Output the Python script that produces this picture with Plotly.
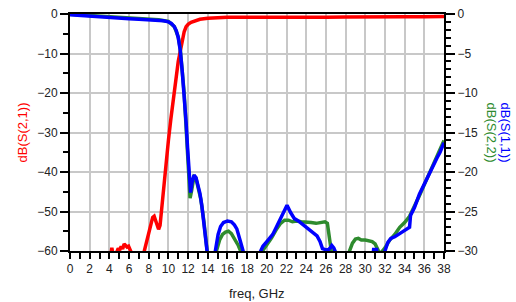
import plotly.graph_objects as go

# S(2,1) in dB (left axis)
s21_f = [3.9, 4.15, 4.25, 4.35, 4.5, 4.75, 4.9, 5.05, 5.2, 5.35, 5.5, 5.65, 5.8, 5.95, 6.1, 6.25, 6.5,
         7.2, 7.55, 7.8, 8.1, 8.4, 8.55, 8.75, 9.0, 9.15, 9.35, 9.6, 9.8, 10.0, 10.25, 10.5, 10.8,
         11.0, 11.2, 11.4, 11.6, 11.8, 12.0, 12.3, 12.7, 13.2, 14, 15, 16, 18, 20, 22, 24, 26, 28,
         30, 32, 34, 36, 38]
s21_db = [-66, -60.5, -59.2, -60.5, -63, -60.3, -59.3, -59.8, -58.8, -59.5, -58.2, -58.6, -59.0, -58.8,
          -59.6, -60.5, -64, -64, -60, -57.5, -54.5, -51.5, -51.2, -52.5, -54.5, -53.5, -48, -41, -36,
          -32, -26.5, -21.5, -15.5, -12, -9.5, -6.5, -4.5, -3.2, -2.6, -2.1, -1.7, -1.35, -1.1, -0.95,
          -0.85, -0.8, -0.85, -0.75, -0.8, -0.8, -0.75, -0.8, -0.75, -0.7, -0.7, -0.65]

# S(1,1) in dB (right axis)
s11_f = [0, 1, 2, 3, 4, 5, 6, 7, 8, 9, 9.5, 10, 10.3, 10.6, 10.8, 11.0, 11.2, 11.4, 11.6, 11.8, 11.95,
         12.1, 12.25, 12.4, 12.6, 12.8, 13.0, 13.2, 13.4, 13.6, 13.8, 14.0, 14.2,
         14.5, 14.75, 15.05, 15.3, 15.6, 16.0, 16.4, 16.7, 16.95, 17.25, 17.5, 17.7, 18,
         19, 19.3, 19.6, 20.0, 20.6, 21.0, 21.5, 22.05, 22.4, 22.8, 23.2, 23.5, 24.0, 24.4, 24.8,
         25.1, 25.4, 25.65, 25.9, 26.2, 26.45, 26.6, 26.8, 27.0, 27.3,
         30.6, 30.85, 31.15, 31.3,
         31.7, 32.0, 32.3, 32.6, 33.0, 33.5, 33.9, 34.2, 34.5, 34.6, 35.0, 35.5, 36.0, 36.5, 36.9,
         37.3, 37.6, 38]
s11_db = [-0.1, -0.2, -0.3, -0.38, -0.45, -0.52, -0.6, -0.66, -0.72, -0.78, -0.85, -1.0, -1.2, -1.6,
          -2.1, -3.0, -4.6, -7.2, -10.2, -13.8, -17, -20.3, -22.6, -21.3, -20.4, -20.7, -21.6, -22.7,
          -24.3, -26.1, -28.1, -30.3, -33,
          -32, -29.9, -27.9, -26.9, -26.4, -26.2, -26.3, -26.7, -27.2, -28.5, -29.6, -30.5, -33,
          -33, -30.2, -29.4, -28.8, -27.9, -26.9, -25.7, -24.2, -25.1, -25.9, -26.2, -26.5, -27.0,
          -27.5, -27.8, -28.1, -28.8, -29.7, -29.8, -29.9, -29.6, -29.3, -29.6, -30.2, -33,
          -33, -29.8, -29.8, -33,
          -33, -30.0, -28.9, -28.4, -28.2, -27.8, -27.5, -27.2, -27.0, -25.5, -24.5, -22.8, -21.5,
          -20.1, -19.0, -18.2, -17.5, -16.3]

# S(2,2) in dB (right axis)
s22_f = [0, 1, 2, 3, 4, 5, 6, 7, 8, 9, 10, 10.6, 11.0, 11.2, 11.6, 12.0, 12.2, 12.35, 12.6, 12.8,
         13.0, 13.3, 13.6, 13.9, 14.2,
         14.6, 14.9, 15.2, 15.5, 15.8, 16.1, 16.4, 16.8, 17.1, 17.4, 17.7,
         19.2, 19.55, 20, 20.5, 21, 21.4, 21.8, 22.2, 22.6, 23, 23.5, 24, 24.5, 25, 25.5, 25.9, 26.15,
         26.35, 26.55, 26.7, 27,
         28.1, 28.4, 28.7, 29.0, 29.3, 29.6, 30.0, 30.3, 30.7, 31.0, 31.3, 31.5, 31.8,
         32.0, 32.5, 33.0, 33.5, 34.0, 34.5, 35.0, 35.5, 36.0, 36.5, 37.0, 37.5, 38]
s22_db = [-0.03, -0.12, -0.22, -0.3, -0.38, -0.46, -0.54, -0.6, -0.67, -0.74, -0.95, -1.6, -2.9,
          -4.4, -10, -18, -23.3, -22.4, -20.6, -20.8, -21.8, -23.5, -26.2, -29.2, -33,
          -33, -29.9, -28.6, -27.9, -27.6, -27.5, -27.8, -28.6, -29.3, -30.2, -33,
          -33, -30, -29.2, -28.3, -27.2, -26.5, -26.1, -26.1, -26.3, -26.2, -26.3, -26.3, -26.4,
          -26.5, -26.4, -26.3, -26.5, -28, -29.6, -31, -34,
          -33, -30, -29, -28.5, -28.4, -28.6, -28.6, -28.7, -28.8, -29.1, -30, -30.4, -29.9,
          -29.6, -28.6, -27.9, -27.0, -26.4, -25.6, -24.4, -23.0, -21.6, -20.2, -19.0, -17.6, -16.0]

x_ticks = list(range(0, 39, 2))

FONT = "Liberation Sans, Arial, sans-serif"
GRID = "#c8c8c8"

fig = go.Figure()
fig.add_trace(go.Scatter(x=s22_f, y=s22_db, yaxis="y2", mode="lines",
                         line=dict(color="#2e8b2e", width=3.5), name="dB(S(2,2))"))
fig.add_trace(go.Scatter(x=s11_f, y=s11_db, yaxis="y2", mode="lines",
                         line=dict(color="#0000ff", width=3.5), name="dB(S(1,1))"))
fig.add_trace(go.Scatter(x=s21_f, y=s21_db, yaxis="y", mode="lines",
                         line=dict(color="#ff0000", width=3.5), name="dB(S(2,1))"))

fig.update_layout(
    width=516, height=302,
    margin=dict(l=70, r=72, t=14, b=51, autoexpand=False),
    paper_bgcolor="white", plot_bgcolor="white",
    showlegend=False,
    font=dict(family=FONT, size=12, color="#222222"),
    xaxis=dict(range=[0, 38], tickvals=x_ticks, ticktext=[str(v) for v in x_ticks],
               showgrid=True, gridcolor=GRID, gridwidth=1.5, automargin=False,
               showline=True, linecolor="black", linewidth=2, mirror=True,
               ticks="outside", ticklen=6, tickcolor="black", tickwidth=1.5,
               minor=dict(dtick=1, ticks="outside", ticklen=6, tickcolor="black", tickwidth=1.5, showgrid=False),
               zeroline=False, tickfont=dict(size=12)),
    yaxis=dict(range=[-60, 0], dtick=10, showgrid=True, gridcolor=GRID, gridwidth=1.5, automargin=False,
               showline=True, linecolor="black", linewidth=2,
               ticks="outside", ticklen=8, tickcolor="black", tickwidth=1.5,
               minor=dict(dtick=5, ticks="outside", ticklen=5, tickcolor="black", tickwidth=1.5, showgrid=False),
               zeroline=False, tickfont=dict(size=12)),
    yaxis2=dict(range=[-30, 0], dtick=5, overlaying="y", side="right", showgrid=False, automargin=False,
                showline=True, linecolor="black", linewidth=2,
                ticks="outside", ticklen=9, tickcolor="black", tickwidth=1.5,
                minor=dict(dtick=1, ticks="outside", ticklen=5, tickcolor="black", tickwidth=1.5),
                zeroline=False, tickfont=dict(size=12)),
    annotations=[
        dict(text="dB(S(2,1))", xref="paper", yref="paper", x=-48 / 374, y=0.5,
             xanchor="center", yanchor="middle", textangle=-90, showarrow=False,
             font=dict(color="#ff0000", size=13, family=FONT)),
        dict(text="dB(S(1,1))", xref="paper", yref="paper", x=(505 - 70) / 374, y=0.5,
             xanchor="center", yanchor="middle", textangle=90, showarrow=False,
             font=dict(color="#0000ff", size=13, family=FONT)),
        dict(text="dB(S(2,2))", xref="paper", yref="paper", x=(491 - 70) / 374, y=0.5,
             xanchor="center", yanchor="middle", textangle=90, showarrow=False,
             font=dict(color="#2e8b2e", size=13, family=FONT)),
        dict(text="freq, GHz", xref="paper", yref="paper", x=0.5, y=-0.178,
             xanchor="center", yanchor="middle", showarrow=False,
             font=dict(color="#222222", size=13, family=FONT)),
    ],
)

fig.write_html("out.html", config={"displayModeBar": False},
               post_script="document.body.style.margin='0';document.body.style.overflow='hidden';")
